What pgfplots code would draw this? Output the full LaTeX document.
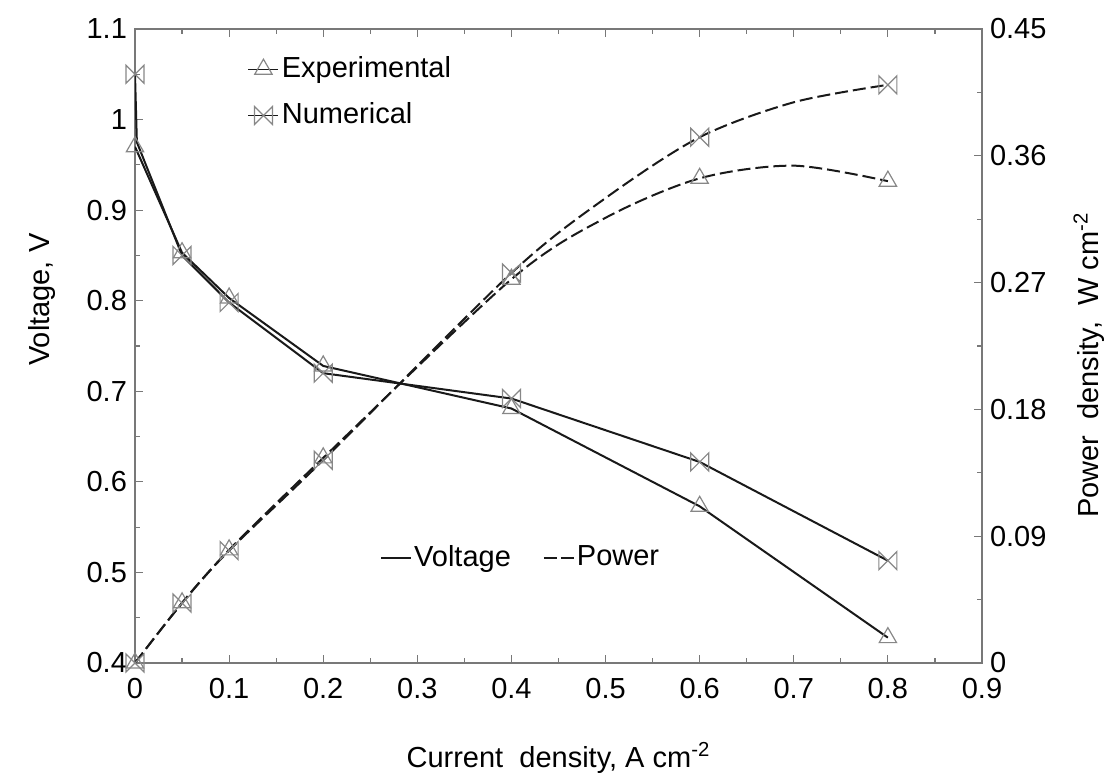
\documentclass[border=0pt]{standalone}
\usepackage{fontspec}
\setmainfont{Liberation Sans}
\usepackage{pgfplots}
\pgfplotsset{compat=1.18}
\definecolor{mk}{RGB}{135,135,135}
\definecolor{ln}{RGB}{25,25,25}
\definecolor{ax}{RGB}{120,120,120}
\pgfdeclareplotmark{bowtie}{%
  \pgfpathmoveto{\pgfqpoint{-\pgfplotmarksize}{-\pgfplotmarksize}}%
  \pgfpathlineto{\pgfqpoint{-\pgfplotmarksize}{\pgfplotmarksize}}%
  \pgfpathlineto{\pgfqpoint{\pgfplotmarksize}{-\pgfplotmarksize}}%
  \pgfpathlineto{\pgfqpoint{\pgfplotmarksize}{\pgfplotmarksize}}%
  \pgfpathclose\pgfusepathqstroke}
\pgfplotsset{
  common/.style={
    scale only axis, width=423.5pt, height=317pt,
    xmin=0, xmax=0.9,
    axis line style={ax, line width=0.8pt},
    tick style={ax, line width=0.6pt},
    major tick length=4pt, minor tick length=2.5pt,
    tick align=inside,
    /pgf/number format/assume math mode=true,
  },
  tri/.style={ln, line width=1pt, mark=triangle, mark size=5pt, mark options={mk, solid, line width=0.6pt}},
  bow/.style={ln, line width=1pt, mark=bowtie, mark size=4.5pt, mark options={mk, solid, line width=0.6pt}},
}
\begin{document}
\fontsize{14.5}{17}\selectfont
\begin{tikzpicture}
\begin{axis}[common,
  ymin=0.4, ymax=1.1,
  xtick={0,0.1,0.2,0.3,0.4,0.5,0.6,0.7,0.8,0.9},
  xticklabels={0,0.1,0.2,0.3,0.4,0.5,0.6,0.7,0.8,0.9},
  minor x tick num=1,
  ytick={0.4,0.5,0.6,0.7,0.8,0.9,1,1.1},
  yticklabels={0.4,0.5,0.6,0.7,0.8,0.9,1,1.1},
  minor y tick num=1,
  ytick pos=left,
  xticklabel style={yshift=-2.5pt},
  yticklabel style={xshift=1pt},
  xlabel={Current\ \ density, A cm\textsuperscript{-2}},
  xlabel style={at={(axis description cs:0.5,-0.15)}, anchor=center},
  ylabel={Voltage, V},
  ylabel style={at={(axis description cs:-0.11,0.573)}, anchor=center},
  legend style={draw=none, fill=none, at={(axis description cs:0.133,0.962)}, anchor=north west,
    inner sep=0pt, row sep=7.5pt, nodes={inner sep=1.5pt}},
  legend cell align=left,
  legend image code/.code={\draw[#1, mark repeat=2, mark phase=2] plot coordinates {(0pt,0pt)(7.5pt,0pt)(15pt,0pt)};},
]
% Experimental voltage
\addplot[tri, forget plot] coordinates {
  (0,0.970) (0.05,0.853) (0.1,0.803) (0.2,0.728) (0.4,0.681) (0.6,0.573) (0.8,0.428)};
% Numerical voltage
\addplot[bow, mark indices={1,3,4,5,6,7,8}, forget plot] coordinates {
  (0,1.050) (0.002,0.975) (0.05,0.850) (0.1,0.798) (0.2,0.720) (0.4,0.692) (0.6,0.622) (0.8,0.513)};
\addlegendimage{ln, thin, mark=triangle, mark size=5pt, mark options={mk, solid, line width=0.6pt}}
\addlegendentry{Experimental}
\addlegendimage{ln, thin, mark=bowtie, mark size=4.5pt, mark options={mk, solid, line width=0.6pt}}
\addlegendentry{Numerical}
\end{axis}
\begin{axis}[common,
  ymin=0, ymax=0.45,
  axis x line=none, axis y line*=right,
  ytick={0,0.09,0.18,0.27,0.36,0.45},
  yticklabels={0,0.09,0.18,0.27,0.36,0.45},
  minor y tick num=1,
  yticklabel style={xshift=-1pt},
  ylabel={Power\ \ density,\ \ W cm\textsuperscript{-2}},
  ylabel style={at={(axis description cs:1.126,0.47)}, anchor=center},
  legend style={draw=none, fill=none, at={(axis description cs:0.289,0.166)}, anchor=west,
    inner sep=0pt, nodes={inner sep=1pt}},
  legend columns=2,
  /tikz/every even column/.append style={column sep=15pt},
  legend image code/.code={\draw[#1] (0pt,0pt) -- (15pt,0pt);},
]
% Experimental power
\addplot[tri, smooth, dash pattern=on 6.5pt off 2.5pt, mark indices={1,2,3,4,5,7,9}, forget plot] coordinates {
  (0,0) (0.05,0.0427) (0.1,0.0803) (0.2,0.1456) (0.4,0.2724) (0.5,0.316) (0.6,0.344) (0.7,0.353) (0.8,0.342)};
% Numerical power
\addplot[bow, smooth, dash pattern=on 6.5pt off 2.5pt, mark indices={1,2,3,4,5,7,9}, forget plot] coordinates {
  (0,0) (0.05,0.0425) (0.1,0.0798) (0.2,0.144) (0.4,0.2768) (0.5,0.330) (0.6,0.3732) (0.7,0.398) (0.8,0.4104)};
\addlegendimage{ln, line width=1pt}
\addlegendentry{Voltage}
\addlegendimage{ln, line width=1pt, dash pattern=on 6.5pt off 2pt}
\addlegendentry{Power}
\end{axis}
\pgfresetboundingbox
\useasboundingbox (-67.5pt,-57.5pt) rectangle (490pt,331.5pt);
\end{tikzpicture}
\end{document}
